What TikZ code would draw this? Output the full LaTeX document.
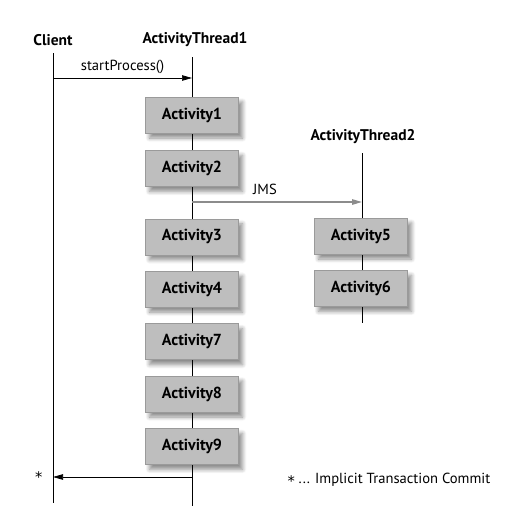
\documentclass[tikz,border=0pt]{standalone}
\usepackage{fontspec}
\setmainfont{PT Sans}
\newfontfamily\starfont{DejaVu Sans}
\usepackage{xcolor}
\usepackage{tikz}
\usetikzlibrary{arrows.meta,positioning,backgrounds,shadows.blur}
\definecolor{boxgray}{HTML}{BEBEBE}
\definecolor{edgegray}{HTML}{9A9A9A}
\definecolor{jmsgray}{HTML}{8C8C8C}
\newcommand{\lowstar}{\raisebox{-3.5pt}{\starfont *}}

\begin{document}
\begin{tikzpicture}[x=1pt,y=-1pt,
  act/.style={draw=edgegray,fill=boxgray,minimum width=93pt,minimum height=36pt,font=\bfseries\fontsize{16}{18}\selectfont,
    blur shadow={shadow xshift=4pt,shadow yshift=-5pt,shadow blur steps=8,shadow blur radius=4pt,shadow opacity=45}},
  head/.style={font=\bfseries\fontsize{15.5}{18}\selectfont},
  lbl/.style={font=\fontsize{14.6}{17}\selectfont},
  life/.style={line width=0.7pt},
  arr/.style={-{Triangle[length=10pt,width=5.5pt]},line width=0.7pt}
]
\useasboundingbox (0,0) rectangle (521,523);
% lifeline heads
\node[head] (client) at (53,40) {Client};
\node[head] (at1) at (195,40) {ActivityThread1};
\node[head] (at2) at (363,137) {ActivityThread2};
% activities of thread 1
\node[act] (a1) at (192,115) {Activity1};
\node[act,below=17pt of a1] (a2) {Activity2};
\node[act,below=32pt of a2] (a3) {Activity3};
\node[act,below=16pt of a3] (a4) {Activity4};
\node[act,below=16pt of a4] (a7) {Activity7};
\node[act,below=16pt of a7] (a8) {Activity8};
\node[act,below=16pt of a8] (a9) {Activity9};
% activities of thread 2
\node[act] (a5) at (361,236) {Activity5};
\node[act,below=16pt of a5] (a6) {Activity6};
% end points
\coordinate (cend) at (53,503);
\coordinate (t1end) at (192,506);
\coordinate (t2end) at (362,323);
\coordinate (spc) at (53,78);
\coordinate (spt) at (192,78);
\coordinate (jmsa) at (192,202);
\coordinate (jmsb) at (362,202);
\coordinate (rett) at (192,477);
\coordinate (retc) at (53,477);
\begin{scope}[on background layer]
\draw[life] (53,53) -- (cend);
\draw[life] (192,57) -- (t1end);
\draw[life] (362,153) -- (t2end);
\end{scope}
\draw[arr] (spc) -- node[lbl,above=1pt]{startProcess()} (spt);
\draw[arr,draw=jmsgray,fill=jmsgray,line width=1.3pt] (jmsa) -- node[lbl,above=3pt,xshift=-12pt]{JMS} (jmsb);
\draw[arr] (rett) -- (retc);
\node[lbl,left=7pt of retc] (star) {\lowstar};
\node[lbl,anchor=west] (note) at (284,480) {\lowstar{} ... Implicit Transaction Commit};
\end{tikzpicture}
\end{document}
